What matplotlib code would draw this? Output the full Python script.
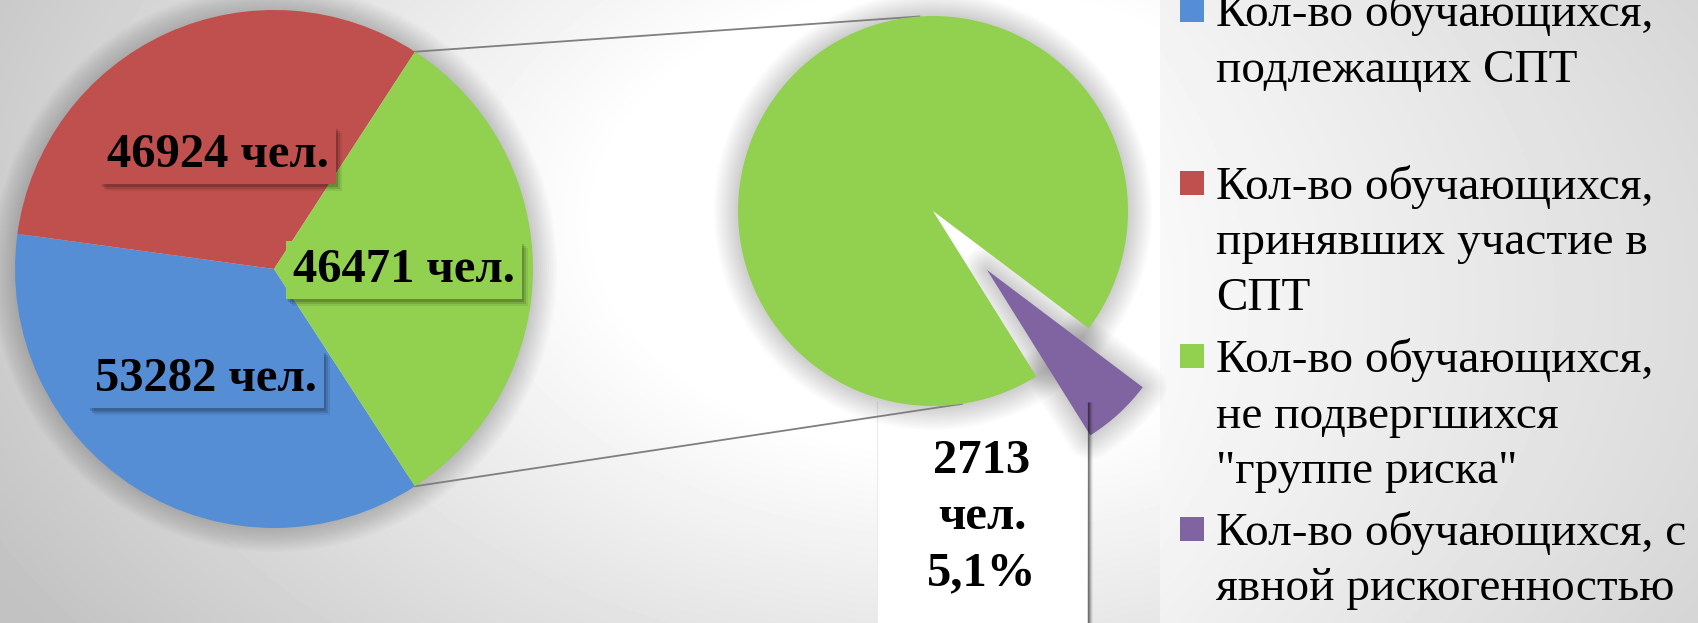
import numpy as np
import matplotlib

matplotlib.use("Agg")
import matplotlib.pyplot as plt  # noqa: E402
from matplotlib.patches import Circle, Wedge, Rectangle  # noqa: E402

plt.rcParams["font.family"] = ["Liberation Serif", "DejaVu Serif"]

# --- data -------------------------------------------------------------------
primary_values = [53282, 46924]          # left pie (blue, red)
secondary_values = [43758, 2713]         # right pie (green, purple) -> "other" slice
legend_labels = [
    "Кол-во обучающихся,\nподлежащих СПТ",
    "Кол-во обучающихся,\nпринявших участие в\nСПТ",
    "Кол-во обучающихся,\nне подвергшихся\n\"группе риска\"",
    "Кол-во обучающихся, с\nявной рискогенностью",
]
colors = ["#558ED5", "#C0504D", "#92D050", "#8064A2"]

W, H = 1699, 623


def Y(y_px):
    """pixel-from-top -> data y"""
    return H - y_px


fig = plt.figure(figsize=(W / 100, H / 100), dpi=100)
ax = fig.add_axes([0, 0, 1, 1])

# background: radial fade on the chart part, linear grey on the legend part
yy, xx = np.mgrid[0:H, 0:W]
d = np.hypot((xx - 950) / 1000, (yy - 220) / 650)
shade = 1 - 0.24 * np.clip((d - 0.35) / 0.75, 0, 1)
right = xx >= 1160
t = (xx[right] - 1160) / 539
shade[right] = 0.975 - 0.11 * t - 0.03 * ((yy[right] - 300) / 320) ** 2
ax.imshow(shade, cmap="gray", vmin=0, vmax=1, extent=(0, W, 0, H),
          origin="upper", aspect="auto", zorder=0, interpolation="bilinear")

# white box behind the small label, with its right-hand shadow
ax.add_patch(Rectangle((877, Y(623)), 1087 - 877, 623 - 402, fc="white",
                       ec="none", zorder=1))
ax.plot([877, 877], [Y(402), Y(623)], color="#ececec", lw=0.8, zorder=1.1)
for k, a in enumerate([0.5, 0.35, 0.22, 0.1, 0.04]):
    ax.plot([1088 + k, 1088 + k], [Y(402), Y(623)], color="black", alpha=a,
            lw=0.9, zorder=4, solid_capstyle="butt")

# --- left pie ---------------------------------------------------------------
lc, lr = (274, Y(269)), 259
other = sum(secondary_values)
left_vals = primary_values + [other]
half_other = 180 * other / sum(left_vals)
ax.pie(left_vals, colors=colors[:3], center=lc, radius=lr,
       startangle=-half_other, counterclock=False,
       wedgeprops=dict(linewidth=0, zorder=3))

# --- right pie --------------------------------------------------------------
rc, rr = (933, Y(211)), 195
purple_span = 360 * secondary_values[1] / other
purple_mid = -47.5
wr, _ = ax.pie(secondary_values, colors=colors[2:], center=rc, radius=rr,
               startangle=purple_mid - purple_span / 2, counterclock=False,
               explode=[0, 0.41 * rr], wedgeprops=dict(linewidth=0, zorder=3))

# soft glow/shadow around the pies
for k in range(1, 13):
    lw = k * 4 * 0.72
    for c, r in [(lc, lr), (rc, rr)]:
        ax.add_patch(Circle(c, r, fc="none", ec="black", alpha=0.014, lw=lw, zorder=2))
    p = wr[1]
    ax.add_patch(Wedge(p.center, p.r, p.theta1, p.theta2, fc="none", ec="black",
                       alpha=0.016, lw=lw, joinstyle="round", zorder=2.6))


# connector lines between the "other" slice and the second pie
def on_circle(c, r, deg):
    a = np.radians(deg)
    return c[0] + r * np.cos(a), c[1] + r * np.sin(a)


for a_left, a_right in [(half_other, 94), (-half_other, -81.5)]:
    p1 = on_circle(lc, lr, a_left)
    p2 = on_circle(rc, rr, a_right)
    ax.plot([p1[0], p2[0]], [p1[1], p2[1]], color="#7f7f7f", lw=1.3, zorder=2.5)

ax.set_xlim(0, W)
ax.set_ylim(0, H)
ax.set_aspect("auto")
ax.axis("off")

# --- data labels ------------------------------------------------------------
lab_kw = dict(ha="center", va="center", fontsize=35, fontweight="bold")
left_label_pos = [(206, 379), (218, 155), (404, 270)]
boxed = []
for (x, y), v, c in zip(left_label_pos, left_vals, colors):
    txt = ax.text(x, Y(y), f"{v} чел.", color="black", zorder=6,
                  bbox=dict(boxstyle="square,pad=0.14", fc=c, ec="none"), **lab_kw)
    boxed.append(txt)

# drop shadows for the boxed labels (soft, down-right)
fig.canvas.draw()
inv = ax.transData.inverted()
for txt in boxed:
    bb = txt.get_bbox_patch().get_window_extent()
    (x0, y0), (x1, y1) = inv.transform([[bb.x0, bb.y0], [bb.x1, bb.y1]])
    for dx, dy, a in [(2, 3, 0.16), (4, 5, 0.12), (6, 7, 0.07)]:
        ax.add_patch(Rectangle((x0 + dx, y0 - dy), x1 - x0, y1 - y0, fc="black",
                               ec="none", alpha=a, zorder=5))

pct = secondary_values[1] / primary_values[0] * 100
small_lines = [f"{secondary_values[1]}", "чел.", f"{pct:.1f}%".replace(".", ",")]
for j, line in enumerate(small_lines):
    ax.text(982, Y(473 + 56 * j), line, ha="center", va="baseline",
            fontsize=35, fontweight="bold", color="black", zorder=6)

# --- legend -----------------------------------------------------------------
for i, (label, c) in enumerate(zip(legend_labels, colors)):
    cy = 10 + 173 * i
    ax.add_patch(Rectangle((1180, Y(cy + 12)), 24, 24, fc=c, ec="none", zorder=5))
    for j, line in enumerate(label.split("\n")):
        ax.text(1216, Y(cy + 16 + 55.5 * j), line, ha="left", va="baseline",
                fontsize=34, color="black", zorder=5)

fig.savefig("out.png", dpi=100)
